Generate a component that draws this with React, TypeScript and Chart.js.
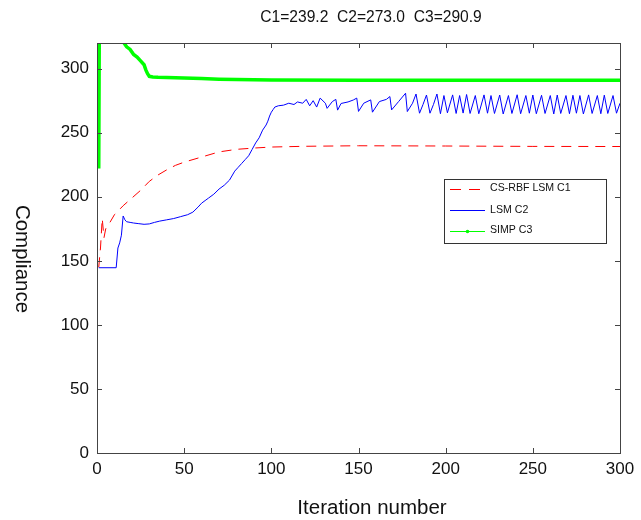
import React, { useEffect, useRef } from "react";
import { Chart, registerables } from "chart.js";

Chart.register(...registerables);

// ---- Data ----
const xTicks = [0, 50, 100, 150, 200, 250, 300];
const yTicks = [0, 50, 100, 150, 200, 250, 300];

const titleText = "C1=239.2  C2=273.0  C3=290.9";
const xTitle = "Iteration number";
const yTitle = "Compliance";
const seriesNames = ["CS-RBF LSM C1", "LSM C2", "SIMP C3"];

// CS-RBF LSM C1 (red dashed)
const c1Iter = [1, 2, 3, 4, 5, 7, 10, 15, 20, 25, 30, 35, 40, 45, 50, 60, 70, 80, 90, 100, 120, 150, 200, 250, 300];
const c1Val = [145, 160, 183, 168, 175, 179, 186, 193, 199, 205, 212, 217, 221, 224.5, 227, 231, 235, 237, 238, 238.8, 239.4, 239.8, 239.6, 239.3, 239.2];

// LSM C2 (blue)
const c2Iter = [
  1, 11, 12, 13, 14, 15, 16, 17, 19, 21, 24, 27, 30, 33, 36, 40, 44, 48, 52, 55, 58, 60, 62, 64, 67, 70, 73, 76, 79, 81, 83, 85, 87, 89, 91, 93, 95, 97, 98, 99, 100, 101, 102, 104, 107, 110, 113, 115, 118, 120, 122, 124, 126, 128,
  131, 132, 135, 137, 138, 140, 144, 147, 149, 150, 153, 157, 158, 162, 166, 168, 169, 173, 177, 178, 181, 183, 185, 187,
  189, 191, 193, 195, 197, 199, 201, 204, 206, 208, 210, 212, 214, 217, 219, 222, 224, 226, 228, 231, 233, 236, 238, 241, 243, 246, 248, 250, 252, 255, 257, 260, 262, 264, 266, 269, 271, 273, 275, 277, 279, 282, 284, 287, 289, 291, 293, 296, 298, 300,
];
const c2Val = [
  144.6, 144.6, 160, 164, 170, 185, 182, 180.5, 180, 179.5, 179, 178.5, 178.8, 180, 181, 182, 183, 184.5, 186, 188, 192, 195, 197, 199, 202, 206, 209, 213, 220, 223, 226, 229, 232, 237, 242, 246, 252, 256, 259, 263, 266, 268, 270, 271, 271.5, 273, 272, 274, 273, 276, 271, 275, 270, 277,
  273, 269, 274.3, 276, 267.6, 272.8, 274, 275.5, 277, 266.6, 273, 275.6, 266, 274.3, 276, 278.2, 267.8, 274.3, 280.8, 266.5, 273, 280.2, 265.2, 272,
  279.4, 265.2, 272, 280.2, 264.8, 279, 265.5, 279.5, 265, 279, 265.3, 279.8, 265, 279, 264.8, 279.5, 265.2, 279, 265, 279.4, 264.6, 279, 265, 279.6, 264.8, 279, 265.2, 279.4, 264.8, 279.2, 265, 279, 264.6, 279.4, 265, 279, 264.8, 279.2, 265.2, 279, 264.6, 279.5, 265, 279, 264.8, 279.3, 265, 279, 265.2, 273,
];

// SIMP C3 (green)
const c3Iter = [1, 2, 5, 10, 15, 17, 19, 21, 23, 25, 27, 28, 29, 30, 32, 35, 40, 50, 60, 70, 80, 100, 150, 200, 300];
const c3Val = [222, 560, 460, 380, 321, 317, 315, 311, 309, 306, 303, 299, 296, 294, 293.5, 293.2, 293, 292.6, 292.2, 291.8, 291.5, 291.2, 291, 290.9, 290.9];

const FONT = "'Liberation Sans', Arial, Helvetica, sans-serif";
const RED = "#ff0000";
const BLUE = "#0000ff";
const GREEN = "#00ff00";

const zip = (xs: number[], ys: number[]) => xs.map((x, i) => ({ x, y: ys[i] }));

const decorPlugin = {
  id: "decor",
  afterDraw(chart: any) {
    const ctx = chart.ctx as CanvasRenderingContext2D;
    const a = chart.chartArea;
    const xs = chart.scales.x;
    const ys = chart.scales.y;
    ctx.save();
    // box
    ctx.strokeStyle = "#444";
    ctx.lineWidth = 1;
    ctx.strokeRect(Math.round(a.left) + 0.5, Math.round(a.top) + 0.5, Math.round(a.right - a.left), Math.round(a.bottom - a.top));
    // inward ticks
    const tl = 5;
    ctx.beginPath();
    xTicks.forEach((v) => {
      const px = Math.round(xs.getPixelForValue(v)) + 0.5;
      ctx.moveTo(px, a.bottom);
      ctx.lineTo(px, a.bottom - tl);
      ctx.moveTo(px, a.top);
      ctx.lineTo(px, a.top + tl);
    });
    yTicks.forEach((v) => {
      const py = Math.round(ys.getPixelForValue(v)) + 0.5;
      ctx.moveTo(a.left, py);
      ctx.lineTo(a.left + tl, py);
      ctx.moveTo(a.right, py);
      ctx.lineTo(a.right - tl, py);
    });
    ctx.stroke();

    // titles
    ctx.fillStyle = "#111";
    ctx.textAlign = "center";
    ctx.textBaseline = "middle";
    ctx.font = `15.6px ${FONT}`;
    ctx.fillText(titleText, 371, 18);
    ctx.font = `20.5px ${FONT}`;
    ctx.fillText(xTitle, 372, 508);
    ctx.save();
    ctx.translate(22, 259);
    ctx.rotate(Math.PI / 2);
    ctx.fillText(yTitle, 0, 0);
    ctx.restore();

    // legend
    const lx = a.right - 176;
    const ly = a.top + 136;
    const lw = 162;
    const lh = 64;
    ctx.fillStyle = "#fff";
    ctx.fillRect(lx, ly, lw, lh);
    ctx.strokeStyle = "#333";
    ctx.lineWidth = 1;
    ctx.strokeRect(lx + 0.5, ly + 0.5, lw, lh);
    const rows = [ly + 9.5, ly + 31, ly + 51.5];
    const colors = [RED, BLUE, GREEN];
    ctx.font = `10.6px ${FONT}`;
    ctx.textAlign = "left";
    ctx.textBaseline = "middle";
    rows.forEach((ry, i) => {
      ctx.strokeStyle = colors[i];
      ctx.lineWidth = 1;
      ctx.setLineDash(i === 0 ? [11, 8] : []);
      ctx.beginPath();
      ctx.moveTo(lx + 6, Math.round(ry) + 0.5);
      ctx.lineTo(lx + 41, Math.round(ry) + 0.5);
      ctx.stroke();
      ctx.setLineDash([]);
      if (i === 2) {
        ctx.fillStyle = GREEN;
        ctx.beginPath();
        ctx.arc(lx + 23.5, Math.round(ry) + 0.5, 1.8, 0, Math.PI * 2);
        ctx.fill();
      }
      ctx.fillStyle = "#111";
      ctx.fillText(seriesNames[i], lx + 46, ry);
    });
    ctx.restore();
  },
};

export default function App() {
  const ref = useRef<HTMLCanvasElement | null>(null);
  useEffect(() => {
    document.body.style.margin = "0";
    if (!ref.current) return;
    const chart = new Chart(ref.current, {
      type: "line",
      data: {
        datasets: [
          {
            label: seriesNames[2],
            data: zip(c3Iter, c3Val),
            borderColor: GREEN,
            backgroundColor: GREEN,
            borderWidth: 3.5,
            pointRadius: 0,
            tension: 0,
            order: 0,
          },
          {
            label: seriesNames[1],
            data: zip(c2Iter, c2Val),
            borderColor: BLUE,
            backgroundColor: BLUE,
            borderWidth: 1,
            pointRadius: 0,
            tension: 0,
            order: 1,
          },
          {
            label: seriesNames[0],
            data: zip(c1Iter, c1Val),
            borderColor: RED,
            backgroundColor: RED,
            borderWidth: 1,
            borderDash: [10, 7],
            pointRadius: 0,
            tension: 0,
            order: 2,
          },
        ],
      },
      options: {
        animation: false,
        responsive: false,
        devicePixelRatio: 1,
        parsing: false as any,
        layout: { padding: { left: 0, right: 21, top: 43, bottom: 0 } },
        plugins: {
          legend: { display: false },
          title: { display: false },
          tooltip: { enabled: false },
        },
        scales: {
          x: {
            type: "linear",
            min: 0,
            max: 300,
            grid: { display: false, drawTicks: false },
            border: { display: false },
            afterBuildTicks: (s: any) => {
              s.ticks = xTicks.map((v) => ({ value: v }));
            },
            afterFit: (s: any) => {
              s.height = 67;
            },
            ticks: {
              font: { family: FONT, size: 17 },
              color: "#111",
              padding: 6,
              maxRotation: 0,
              autoSkip: false,
            },
          },
          y: {
            type: "linear",
            min: 0,
            max: 320,
            grid: { display: false, drawTicks: false },
            border: { display: false },
            afterBuildTicks: (s: any) => {
              s.ticks = yTicks.map((v) => ({ value: v }));
            },
            afterFit: (s: any) => {
              s.width = 97;
            },
            ticks: {
              font: { family: FONT, size: 17 },
              color: "#111",
              padding: 8,
              autoSkip: false,
            },
          },
        },
      },
      plugins: [decorPlugin],
    });
    return () => chart.destroy();
  }, []);
  return (
    <div style={{ width: 641, height: 520, background: "#fff" }}>
      <canvas ref={ref} width={641} height={520} style={{ display: "block" }} />
    </div>
  );
}
